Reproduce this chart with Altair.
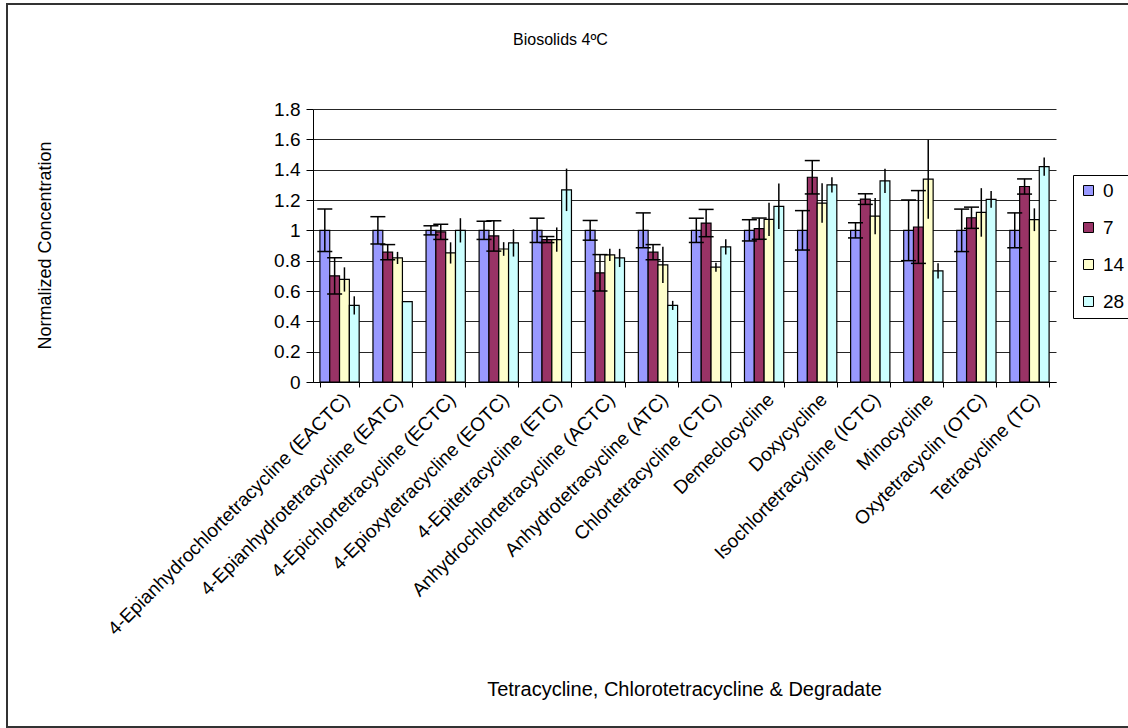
import altair as alt
import pandas as pd

# Compounds along the x axis
compounds = [
    "4-Epianhydrochlortetracycline (EACTC)",
    "4-Epianhydrotetracycline (EATC)",
    "4-Epichlortetracycline (ECTC)",
    "4-Epioxytetracycline (EOTC)",
    "4-Epitetracycline (ETC)",
    "Anhydrochlortetracycline (ACTC)",
    "Anhydrotetracycline (ATC)",
    "Chlortetracycline (CTC)",
    "Demeclocycline",
    "Doxycycline",
    "Isochlortetracycline (ICTC)",
    "Minocycline",
    "Oxytetracyclin (OTC)",
    "Tetracycline (TC)",
]

# Sampling day series
days = ["0", "7", "14", "28"]
day_colors = ["#9999FF", "#993366", "#FFFFCC", "#CCFFFF"]

# Normalized concentrations and error half-widths per day
v0 = [1.0, 1.0, 1.0, 1.0, 1.0, 1.0, 1.0, 1.0, 1.0, 1.0, 1.0, 1.0, 1.0, 1.0]
e0 = [0.14, 0.09, 0.03, 0.06, 0.08, 0.065, 0.115, 0.08, 0.07, 0.13, 0.05, 0.20, 0.14, 0.115]
v7 = [0.70, 0.856, 0.99, 0.963, 0.939, 0.72, 0.856, 1.048, 1.011, 1.35, 1.206, 1.022, 1.083, 1.289]
e7 = [0.12, 0.05, 0.05, 0.10, 0.02, 0.12, 0.05, 0.09, 0.07, 0.11, 0.035, 0.24, 0.07, 0.05]
v14 = [0.676, 0.818, 0.851, 0.877, 0.939, 0.838, 0.772, 0.757, 1.072, 1.18, 1.094, 1.337, 1.118, 1.07]
e14 = [0.08, 0.04, 0.07, 0.045, 0.08, 0.04, 0.12, 0.03, 0.11, 0.13, 0.12, 0.26, 0.16, 0.075]
v28 = [0.505, 0.53, 1.0, 0.917, 1.267, 0.818, 0.505, 0.891, 1.158, 1.30, 1.326, 0.733, 1.204, 1.42]
e28 = [0.06, 0.0, 0.08, 0.09, 0.14, 0.06, 0.03, 0.05, 0.15, 0.05, 0.08, 0.05, 0.055, 0.06]

y_ticks = [0, 0.2, 0.4, 0.6, 0.8, 1.0, 1.2, 1.4, 1.6, 1.8]

chart_title = "Biosolids 4ºC"
x_title = "Tetracycline, Chlorotetracycline & Degradate"
y_title = "Normalized Concentration"

FONT = "Liberation Sans"
FS = 19

rows = []
for day, vals, errs in [("0", v0, e0), ("7", v7, e7), ("14", v14, e14), ("28", v28, e28)]:
    for c, v, e in zip(compounds, vals, errs):
        rows.append({
            "compound": c, "day": day, "value": v,
            "lo": v - e, "hi": v + e,
            "capped": day in ("0", "7"),
        })
df = pd.DataFrame(rows)

W, H = 743, 273
LEFT, TOP = 313, 109

x_enc = alt.X(
    "compound:N", sort=compounds, title=None,
    scale=alt.Scale(paddingInner=0.26, paddingOuter=0.13),
    axis=alt.Axis(
        labelAngle=-45, labelFont=FONT, labelFontSize=FS, labelColor="black",
        labelLimit=600, labelPadding=3,
        tickBand="extent", tickSize=5, tickColor="black", tickWidth=1,
        domainColor="black", domainWidth=1, grid=False,
    ),
)
xo_enc = alt.XOffset("day:N", sort=days, scale=alt.Scale(paddingInner=0, paddingOuter=0))
y_scale = alt.Scale(domain=[0, 1.8], nice=False)
y_axis = alt.Axis(
    values=y_ticks, format="~g", labelFont=FONT, labelFontSize=FS,
    labelColor="black", labelPadding=6, tickSize=7, tickColor="black",
    domainColor="black", gridColor="black", gridWidth=1, gridOpacity=0.85,
)


def y_of(field):
    return alt.Y(field, type="quantitative", scale=y_scale, axis=y_axis, title=None)


bars = alt.Chart(df).mark_bar(stroke="black", strokeWidth=1.2, opacity=1).encode(
    x=x_enc,
    xOffset=xo_enc,
    y=y_of("value"),
    color=alt.Color(
        "day:N", sort=days,
        scale=alt.Scale(domain=days, range=day_colors),
        legend=alt.Legend(
            title=None, orient="none", legendX=760, legendY=66,
            direction="vertical",
            strokeColor="black", fillColor="white", padding=6,
            symbolType="square", symbolSize=100, symbolStrokeColor="black",
            symbolStrokeWidth=1, symbolOpacity=1,
            labelFont=FONT, labelFontSize=FS, labelColor="black",
            rowPadding=17, labelOffset=5,
        ),
    ),
)

err_rules = alt.Chart(df).transform_filter("datum.hi > datum.lo").mark_rule(
    color="black", strokeWidth=1.5
).encode(x=x_enc, xOffset=xo_enc, y=y_of("lo"), y2="hi:Q")

cap_lo = alt.Chart(df).transform_filter("datum.capped").mark_tick(
    color="black", thickness=1.5, size=15, opacity=1
).encode(x=x_enc, xOffset=xo_enc, y=y_of("lo"))

cap_hi = alt.Chart(df).transform_filter("datum.capped").mark_tick(
    color="black", thickness=1.5, size=15, opacity=1
).encode(x=x_enc, xOffset=xo_enc, y=y_of("hi"))

title_df = pd.DataFrame({"t": [chart_title]})
title_txt = alt.Chart(title_df).mark_text(
    font=FONT, fontSize=16, color="black", align="left", baseline="middle"
).encode(x=alt.value(513 - LEFT), y=alt.value(40 - TOP), text="t:N")

xt_df = pd.DataFrame({"t": [x_title]})
xtitle_txt = alt.Chart(xt_df).mark_text(
    font=FONT, fontSize=20, color="black", align="center", baseline="middle"
).encode(x=alt.value(W / 2), y=alt.value(690 - TOP), text="t:N")

yt_df = pd.DataFrame({"t": [y_title]})
ytitle_txt = alt.Chart(yt_df).mark_text(
    font=FONT, fontSize=18, color="black", align="center", baseline="middle", angle=270
).encode(x=alt.value(46 - LEFT), y=alt.value(H / 2), text="t:N")

frame_df = pd.DataFrame({"k": [0]})
frame = alt.Chart(frame_df).mark_rect(
    fillOpacity=0, stroke="#333333", strokeWidth=2
).encode(
    x=alt.value(7 - LEFT), x2=alt.value(1140 - LEFT),
    y=alt.value(4 - TOP), y2=alt.value(727 - TOP),
)

chart = alt.layer(
    bars, err_rules, cap_lo, cap_hi, title_txt, xtitle_txt, ytitle_txt, frame
).properties(
    width=W, height=H,
    autosize=alt.AutoSizeParams(type="none"),
    padding={"left": LEFT, "top": TOP, "right": 1128 - LEFT - W, "bottom": 728 - TOP - H},
    background="white",
).configure_view(stroke=None)

chart.save("out.html", embed_options={"renderer": "svg", "actions": False})
